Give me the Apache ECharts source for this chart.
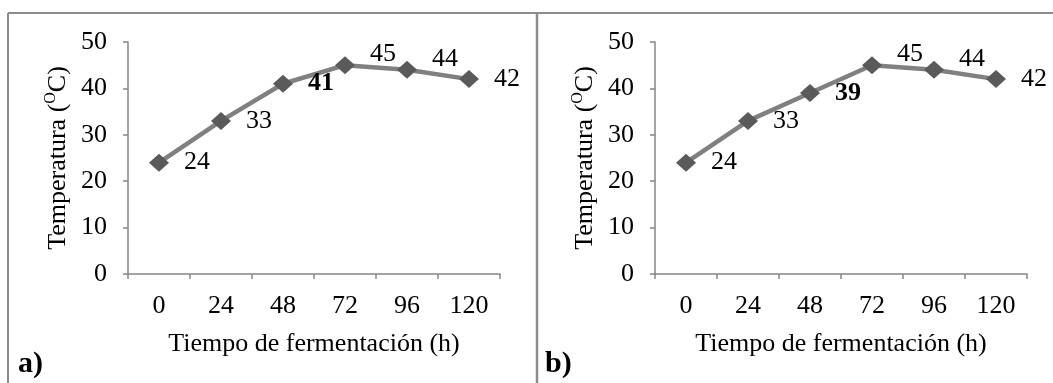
<!DOCTYPE html>
<html>
<head>
<meta charset="utf-8">
<script src="https://cdn.jsdelivr.net/npm/echarts@6/dist/echarts.min.js"></script>
<style>
html,body{margin:0;padding:0;background:#fff;}
#c{width:1053px;height:383px;}
</style>
</head>
<body>
<div id="c"></div>
<script>
// Data
var categories = ['0', '24', '48', '72', '96', '120'];
var valuesA = [24, 33, 41, 45, 44, 42];
var valuesB = [24, 33, 39, 45, 44, 42];
var yTicks = [0, 10, 20, 30, 40, 50];
var boldIndex = 2;          // highlighted (bold) label
var raisedIndices = [3, 4]; // labels placed above-right
var panelLabels = ['a)', 'b)'];
var xTitle = 'Tiempo de fermentación (h)';

var FONT = "'Liberation Serif', 'Times New Roman', serif";
var AXIS = '#868686';
var FS = 26;

function makeData(vals) {
  return vals.map(function (v, i) {
    var d = { value: v, label: {} };
    if (i === boldIndex) d.label.fontWeight = 'bold';
    if (raisedIndices.indexOf(i) >= 0) d.label.offset = [0, -11];
    return d;
  });
}

function xAxis(gi) {
  return {
    type: 'category', gridIndex: gi, data: categories, boundaryGap: true,
    axisLine: { lineStyle: { color: AXIS, width: 1.5 } },
    axisTick: { show: true, length: 5, alignWithLabel: false, lineStyle: { color: AXIS, width: 1.5 } },
    axisLabel: { color: '#000', fontFamily: FONT, fontSize: FS, margin: 19 },
    splitLine: { show: false },
    name: xTitle, nameLocation: 'middle', nameGap: 57,
    nameTextStyle: { color: '#000', fontFamily: FONT, fontSize: FS }
  };
}
function yAxis(gi) {
  return {
    type: 'value', gridIndex: gi, min: yTicks[0], max: yTicks[yTicks.length - 1], interval: 10,
    axisLine: { show: true, lineStyle: { color: AXIS, width: 1.5 } },
    axisTick: { show: true, length: 5, lineStyle: { color: AXIS, width: 1.5 } },
    axisLabel: { color: '#000', fontFamily: FONT, fontSize: FS, margin: 21 },
    splitLine: { show: false },
    name: '{n|Temperatura (}{s|O}{n|C)}', nameLocation: 'middle', nameGap: 55, nameRotate: 90,
    nameTextStyle: {
      color: '#000', fontFamily: FONT, fontSize: FS,
      rich: {
        n: { fontFamily: FONT, fontSize: FS, color: '#000', lineHeight: 30 },
        s: { fontFamily: FONT, fontSize: 16, color: '#000', lineHeight: 18, verticalAlign: 'top' }
      }
    }
  };
}
function series(gi, vals) {
  return {
    type: 'line', xAxisIndex: gi, yAxisIndex: gi, data: makeData(vals),
    symbol: 'diamond', symbolSize: [20, 18],
    lineStyle: { color: '#808080', width: 4.5 },
    itemStyle: { color: '#5a5a5a' },
    label: { show: true, position: 'right', distance: 15, color: '#000', fontFamily: FONT, fontSize: FS },
    animation: false, z: 3
  };
}

var BORDER = '#8c8c8c';
var option = {
  animation: false,
  grid: [
    { left: 128, top: 42, width: 372, height: 232 },
    { left: 655, top: 42, width: 372, height: 232 }
  ],
  xAxis: [xAxis(0), xAxis(1)],
  yAxis: [yAxis(0), yAxis(1)],
  series: [series(0, valuesA), series(1, valuesB)],
  graphic: [
    { type: 'line', shape: { x1: 8, y1: 13, x2: 1053, y2: 13 }, style: { stroke: BORDER, lineWidth: 2 } },
    { type: 'line', shape: { x1: 8, y1: 13, x2: 8, y2: 383 }, style: { stroke: BORDER, lineWidth: 2 } },
    { type: 'line', shape: { x1: 537, y1: 13, x2: 537, y2: 383 }, style: { stroke: BORDER, lineWidth: 2.5 } },
    { type: 'text', left: 18, top: 349, style: { text: panelLabels[0], fontFamily: FONT, fontSize: 30, fontWeight: 'bold', fill: '#000' } },
    { type: 'text', left: 545, top: 349, style: { text: panelLabels[1], fontFamily: FONT, fontSize: 30, fontWeight: 'bold', fill: '#000' } }
  ]
};
var chart = echarts.init(document.getElementById('c'), null, { renderer: 'canvas' });
chart.setOption(option);
</script>
</body>
</html>
